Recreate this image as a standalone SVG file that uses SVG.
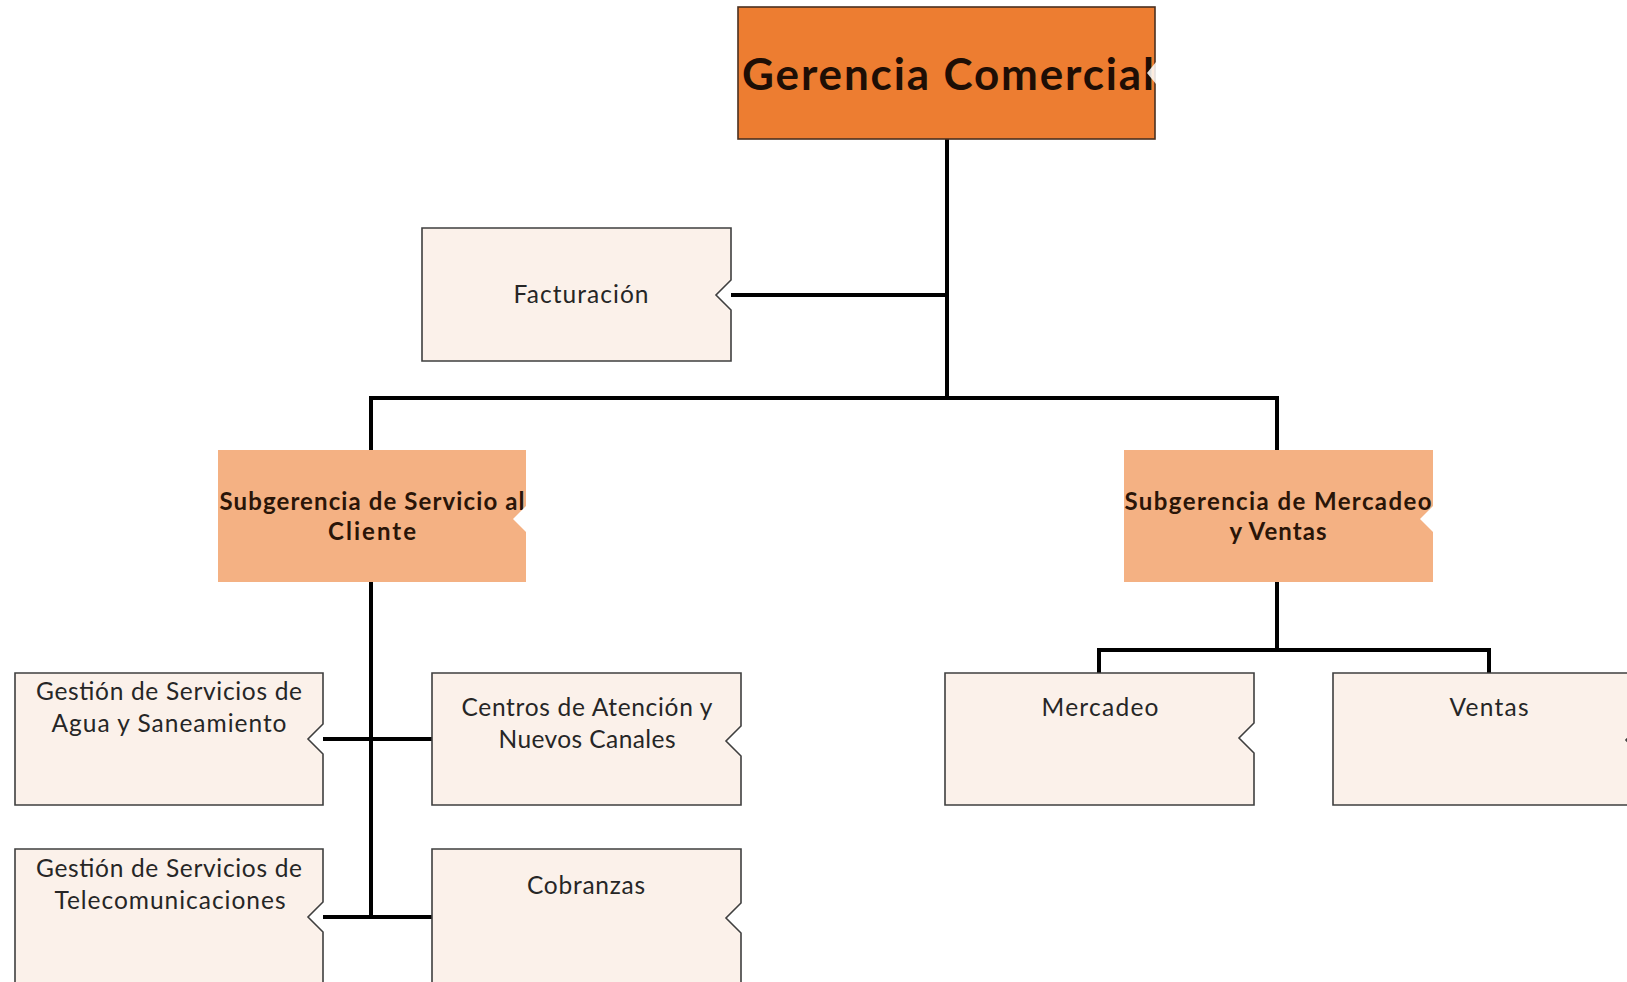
<svg xmlns="http://www.w3.org/2000/svg" width="1627" height="982" viewBox="0 0 1627 982">
<style>
  .box { fill: #FBF1EA; stroke: #3F3F3F; stroke-width: 1.6; }
  .top { fill: #ED7D31; stroke: #4A3020; stroke-width: 1.6; }
  .sub { fill: #F4B183; stroke: none; }
  .cut { fill: #FFFFFF; stroke: none; }
  .t { font-family: Lato, "Open Sans", "Liberation Sans", sans-serif; font-size: 24.5px; fill: #262626; text-anchor: middle; }
  .tb { font-family: Lato, "Open Sans", "Liberation Sans", sans-serif; font-size: 24px; font-weight: bold; fill: #2A1508; text-anchor: middle; }
  .tt { font-family: Lato, "Open Sans", "Liberation Sans", sans-serif; font-size: 44px; font-weight: bold; fill: #1E0E05; }
  .c { stroke: #000000; stroke-width: 4; fill: none; }
</style>
<rect width="1627" height="982" fill="#FFFFFF"/>

<g id="connectors">
  <line class="c" x1="947" y1="139" x2="947" y2="400"/>
  <line class="c" x1="731" y1="295" x2="947" y2="295"/>
  <polyline class="c" points="371,450 371,398 1277,398 1277,450"/>
  <line class="c" x1="371" y1="582" x2="371" y2="918"/>
  <line class="c" x1="323" y1="739" x2="432" y2="739"/>
  <line class="c" x1="323" y1="917" x2="432" y2="917"/>
  <line class="c" x1="1277" y1="582" x2="1277" y2="650"/>
  <polyline class="c" points="1099,673 1099,650 1489,650 1489,673"/>
</g>

<g id="gerencia-comercial">
  <rect class="top" x="738" y="7" width="417" height="132"/>
  <text class="tt" x="742" y="90" textLength="412">Gerencia Comercial</text>
  <polygon class="cut" points="1156,62 1147,73 1156,84" opacity="0.85"/>
</g>

<g id="facturacion">
  <path class="box" d="M422,228 H731 V280 L716,295 L731,310 V361 H422 Z"/>
  <text class="t" x="581" y="303" textLength="135">Facturación</text>
</g>

<g id="subgerencia-servicio-cliente">
  <rect class="sub" x="218" y="450" width="308" height="132"/>
  <text class="tb" x="372" y="510" textLength="305">Subgerencia de Servicio al</text>
  <text class="tb" x="372" y="540" textLength="88">Cliente</text>
  <polygon class="cut" points="527,505 513,519 527,533"/>
</g>

<g id="subgerencia-mercadeo-ventas">
  <rect class="sub" x="1124" y="450" width="309" height="132"/>
  <text class="tb" x="1278" y="510" textLength="307">Subgerencia de Mercadeo</text>
  <text class="tb" x="1278" y="540" textLength="97">y Ventas</text>
  <polygon class="cut" points="1434,505 1420,519 1434,533"/>
</g>

<g id="gestion-agua">
  <path class="box" d="M15,673 H323 V724 L308,739 L323,754 V805 H15 Z"/>
  <text class="t" x="169" y="700" textLength="266">Gestión de Servicios de</text>
  <text class="t" x="169" y="732" textLength="235">Agua y Saneamiento</text>
</g>

<g id="centros-atencion">
  <path class="box" d="M432,673 H741 V726 L726,741 L741,756 V805 H432 Z"/>
  <text class="t" x="587" y="716" textLength="251">Centros de Atención y</text>
  <text class="t" x="587" y="748" textLength="177">Nuevos Canales</text>
</g>

<g id="gestion-telecom">
  <path class="box" d="M15,849 H323 V902 L308,917 L323,932 V1000 H15 Z"/>
  <text class="t" x="169" y="877" textLength="266">Gestión de Servicios de</text>
  <text class="t" x="170" y="909" textLength="231">Telecomunicaciones</text>
</g>

<g id="cobranzas">
  <path class="box" d="M432,849 H741 V903 L726,918 L741,933 V1000 H432 Z"/>
  <text class="t" x="586" y="894" textLength="118">Cobranzas</text>
</g>

<g id="mercadeo">
  <path class="box" d="M945,673 H1254 V723 L1239,738 L1254,753 V805 H945 Z"/>
  <text class="t" x="1100" y="716" textLength="117">Mercadeo</text>
</g>

<g id="ventas">
  <path class="box" d="M1333,673 H1641 V725 L1626,740 L1641,755 V805 H1333 Z"/>
  <text class="t" x="1489" y="716" textLength="79">Ventas</text>
</g>
</svg>
